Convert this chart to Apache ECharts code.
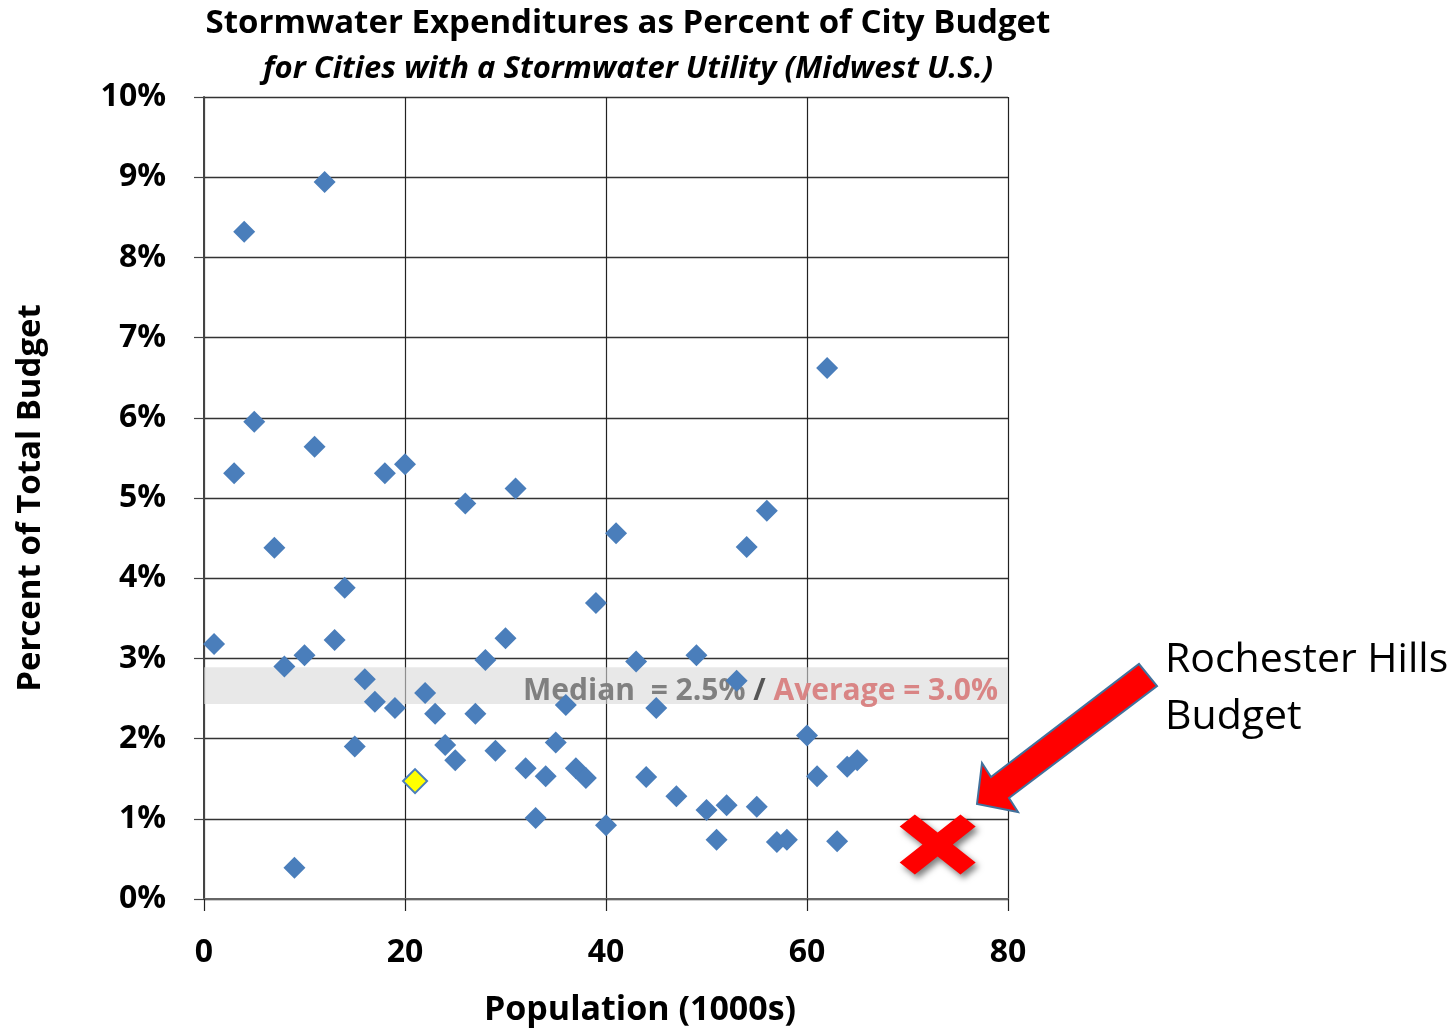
<!DOCTYPE html>
<html>
<head>
<meta charset="utf-8">
<title>Stormwater Expenditures</title>
<script src="https://cdn.jsdelivr.net/npm/echarts@6/dist/echarts.min.js"></script>
<style>
	html, body { margin: 0; padding: 0; background: #fff; }
	#main { width: 1456px; height: 1032px; }
</style>
</head>
<body>
<div id="main"></div>
<script>
	// population (1000s) and stormwater share of budget (%) for each city
	var popK = [1, 3, 4, 5, 7, 8, 9, 10, 11, 12, 13, 14, 15, 16, 17, 18, 19, 20, 22, 23,
		24, 25, 26, 27, 28, 29, 30, 31, 32, 33, 34, 35, 36, 37, 38, 39, 40, 41, 43, 44,
		45, 47, 49, 50, 51, 52, 53, 54, 55, 56, 57, 58, 60, 61, 62, 63, 64, 65];
	var pctBudget = [3.18, 5.31, 8.32, 5.95, 4.38, 2.90, 0.39, 3.04, 5.64, 8.94, 3.23, 3.88, 1.90, 2.74, 2.46, 5.31, 2.38, 5.42, 2.57, 2.31,
		1.92, 1.73, 4.93, 2.31, 2.98, 1.85, 3.25, 5.12, 1.63, 1.01, 1.53, 1.95, 2.42, 1.63, 1.51, 3.69, 0.92, 4.56, 2.96, 1.52,
		2.38, 1.28, 3.04, 1.11, 0.74, 1.17, 2.72, 4.39, 1.15, 4.84, 0.71, 0.74, 2.04, 1.53, 6.62, 0.72, 1.65, 1.73];
	// highlighted city (yellow marker)
	var highlightPop = [21];
	var highlightPct = [1.47];
	// Rochester Hills
	var rochesterPop = [73];
	var rochesterPct = [0.68];
	// median / average band
	var bandLow = 2.43;
	var bandHigh = 2.89;
	var medianText = 'Median  = 2.5%';
	var averageText = 'Average = 3.0%';
	var xTicks = [0, 20, 40, 60, 80];
	var yTicks = [0, 1, 2, 3, 4, 5, 6, 7, 8, 9, 10];

	function pairs(xs, ys) {
		var out = [];
		for (var i = 0; i < xs.length; i++) {
			out.push([xs[i], ys[i]]);
		}
		return out;
	}

	var font = '"Open Sans", "Noto Sans", sans-serif';
	var crossPath = 'path://M0,20 L20,0 L50,30 L80,0 L100,20 L70,50 L100,80 L80,100 L50,70 L20,100 L0,80 L30,50 Z';

	var myChart = echarts.init(document.getElementById('main'));
	var option = {
		backgroundColor: '#fff',
		animation: false,
		textStyle: { fontFamily: font },
		title: [{
			text: 'Stormwater Expenditures as Percent of City Budget',
			left: 623, top: 2, textAlign: 'center',
			textStyle: { fontFamily: font, fontSize: 33, fontWeight: 'bold', color: '#000' }
		}, {
			text: 'for Cities with a Stormwater Utility (Midwest U.S.)',
			left: 623, top: 49, textAlign: 'center',
			textStyle: { fontFamily: font, fontSize: 31, fontWeight: 'bold', fontStyle: 'italic', color: '#000' }
		}],
		grid: { left: 204, top: 97, right: 448, bottom: 133, containLabel: false, outerBoundsMode: 'none' },
		xAxis: {
			type: 'value',
			min: xTicks[0], max: xTicks[xTicks.length - 1], interval: 20,
			name: 'Population (1000s)',
			nameLocation: 'middle',
			nameGap: 94,
			nameTextStyle: { fontFamily: font, fontSize: 34, fontWeight: 'bold', color: '#000', padding: [0, 0, 0, 68] },
			axisLine: { lineStyle: { color: '#666', width: 2 } },
			axisTick: { show: true, length: 12, lineStyle: { color: '#222', width: 1.2 } },
			axisLabel: { fontFamily: font, fontSize: 32, fontWeight: 'bold', color: '#000', margin: 38 },
			splitLine: { show: true, lineStyle: { color: '#222', width: 1.2 } }
		},
		yAxis: {
			type: 'value',
			min: yTicks[0], max: yTicks[yTicks.length - 1], interval: 1,
			name: 'Percent of Total Budget',
			nameLocation: 'middle',
			nameGap: 157,
			nameRotate: 90,
			nameTextStyle: { fontFamily: font, fontSize: 33, fontWeight: 'bold', color: '#000' },
			axisLine: { show: true, lineStyle: { color: '#444', width: 2 } },
			axisTick: { show: true, length: 10, lineStyle: { color: '#444', width: 1.2 } },
			axisLabel: { fontFamily: font, fontSize: 32, fontWeight: 'bold', color: '#000', margin: 38, formatter: '{value}%' },
			splitLine: { show: true, lineStyle: { color: '#333', width: 1.4 } }
		},
		series: [{
			name: 'Cities',
			type: 'scatter',
			symbol: 'diamond',
			symbolSize: 22,
			itemStyle: { color: '#4a7ebb', opacity: 1 },
			data: pairs(popK, pctBudget),
			z: 2
		}, {
			name: 'Highlight',
			type: 'scatter',
			symbol: 'diamond',
			symbolSize: 24,
			itemStyle: { color: '#ffff00', borderColor: '#4a7ebb', borderWidth: 2, opacity: 1 },
			data: pairs(highlightPop, highlightPct),
			z: 3
		}, {
			name: 'Band',
			type: 'scatter',
			data: [],
			z: 5,
			markArea: {
				silent: true,
				itemStyle: { color: 'rgba(216,216,216,0.6)' },
				label: {
					show: true,
					position: 'insideRight',
					distance: 10,
					offset: [0, 6],
					formatter: '{m|' + medianText + '}{s| / }{a|' + averageText + '}',
					rich: {
						m: { fontFamily: font, fontSize: 30, fontWeight: 'bold', color: '#808080' },
						s: { fontFamily: font, fontSize: 30, fontWeight: 'bold', color: '#555' },
						a: { fontFamily: font, fontSize: 30, fontWeight: 'bold', color: '#d98585' }
					}
				},
				data: [[{ xAxis: xTicks[0], yAxis: bandLow }, { xAxis: xTicks[xTicks.length - 1], yAxis: bandHigh }]]
			}
		}, {
			name: 'Rochester Hills',
			type: 'scatter',
			symbol: crossPath,
			symbolSize: [76, 60],
			itemStyle: {
				color: '#ff0000', opacity: 1,
				shadowBlur: 6, shadowOffsetX: 3, shadowOffsetY: 4, shadowColor: 'rgba(0,0,0,0.5)'
			},
			data: pairs(rochesterPop, rochesterPct),
			z: 6
		}],
		graphic: [{
			type: 'polygon',
			z: 10,
			shape: {
				points: [[977, 804], [982, 763], [991, 777], [1139, 664], [1157, 686], [1009, 798], [1018, 812]]
			},
			style: { fill: '#ff0000', stroke: '#41719c', lineWidth: 2 }
		}, {
			type: 'text',
			left: 1165, top: 632,
			style: {
				text: 'Rochester Hills\nBudget',
				font: '41px ' + font,
				fill: '#000',
				lineHeight: 57
			}
		}]
	};
	myChart.setOption(option);
	window.onresize = function() {
		myChart.resize();
	};
</script>
</body>
</html>
